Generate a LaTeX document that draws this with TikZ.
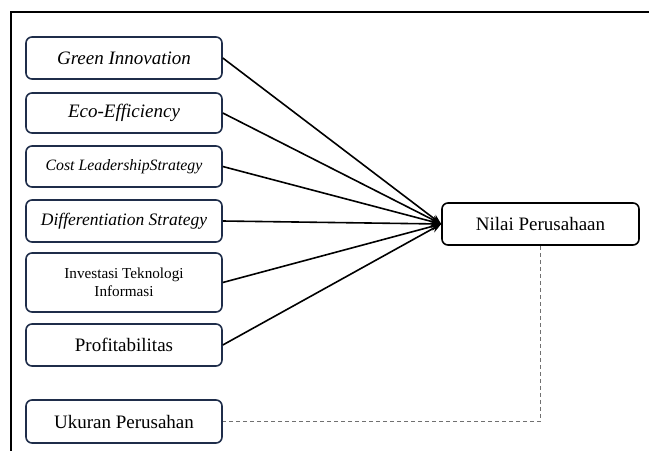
\documentclass[tikz,border=0pt]{standalone}
\usepackage{fontspec}
\setmainfont{Liberation Serif}
\usetikzlibrary{arrows.meta}
\definecolor{navy}{HTML}{1F2D4A}
\definecolor{dashgrey}{HTML}{707070}
\begin{document}
\begin{tikzpicture}[x=1pt,y=-1pt,
  varbox/.style={draw=navy,line width=1.6pt,rounded corners=6pt,minimum width=196pt,inner sep=0pt,align=center},
  outbox/.style={draw=black,line width=1.6pt,rounded corners=6pt,minimum width=197pt,minimum height=42pt,inner sep=0pt},
  conn/.style={line width=1.6pt,-{Stealth[length=10pt,width=8pt]}},
  dconn/.style={draw=dashgrey,line width=1.4pt,dash pattern=on 4pt off 3pt}]
\useasboundingbox (0,0) rectangle (649,451);
\draw[line width=1.8pt] (649,12) -- (11,12) -- (11,451);
\node[varbox,minimum height=42pt,font=\fontsize{19}{22}\selectfont\itshape] (gi) at (124,58) {Green Innovation};
\node[varbox,minimum height=40pt,font=\fontsize{19}{22}\selectfont\itshape] (ee) at (124,113) {Eco-Efficiency};
\node[varbox,minimum height=41pt,font=\fontsize{15.8}{18}\selectfont\itshape] (cl) at (124,166.5) {Cost LeadershipStrategy};
\node[varbox,minimum height=42pt,font=\fontsize{17.5}{20}\selectfont\itshape] (ds) at (124,221) {Differentiation Strategy};
\node[varbox,minimum height=59pt,font=\fontsize{15.2}{18}\selectfont] (it) at (124,282.5) {Investasi Teknologi\\Informasi};
\node[varbox,minimum height=42pt,font=\fontsize{19}{22}\selectfont] (pr) at (124,345) {Profitabilitas};
\node[varbox,minimum height=43pt,font=\fontsize{19}{22}\selectfont] (up) at (124,421.5) {Ukuran Perusahan};
\node[outbox,font=\fontsize{19}{22}\selectfont] (np) at (540.5,224) {Nilai Perusahaan};
\foreach \n in {gi,ee,cl,ds,it,pr} \draw[conn] (\n.east) -- (np.west);
\coordinate (corner) at (np.south |- up.east);
\draw[dconn] (np.south) -- (corner) -- (up.east);
\end{tikzpicture}
\end{document}
